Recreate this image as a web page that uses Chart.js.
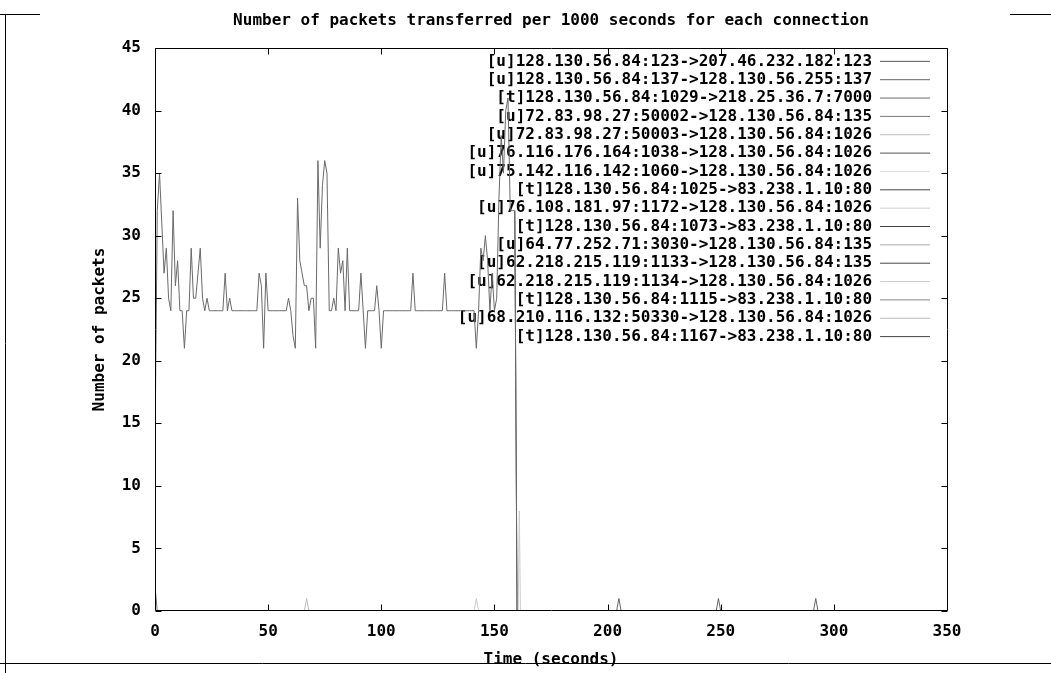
<!DOCTYPE html>
<html><head><meta charset="utf-8">
<script src="https://cdn.jsdelivr.net/npm/chart.js@4.4.1/dist/chart.umd.min.js"></script>
<style>html,body{margin:0;padding:0;background:#fff;overflow:hidden}#wrap{width:1051px;height:673px;position:relative}</style>
</head><body><div id="wrap"><canvas id="c" width="1051" height="673"></canvas></div>
<script>
const TITLE = 'Number of packets transferred per 1000 seconds for each connection';
const X_TITLE = 'Time (seconds)';
const Y_TITLE = 'Number of packets';
const X_MIN = 0, X_MAX = 350, X_STEP = 50;
const Y_MIN = 0, Y_MAX = 45, Y_STEP = 5;

const seriesNames = [
  '[u]128.130.56.84:123->207.46.232.182:123',
  '[u]128.130.56.84:137->128.130.56.255:137',
  '[t]128.130.56.84:1029->218.25.36.7:7000',
  '[u]72.83.98.27:50002->128.130.56.84:135',
  '[u]72.83.98.27:50003->128.130.56.84:1026',
  '[u]76.116.176.164:1038->128.130.56.84:1026',
  '[u]75.142.116.142:1060->128.130.56.84:1026',
  '[t]128.130.56.84:1025->83.238.1.10:80',
  '[u]76.108.181.97:1172->128.130.56.84:1026',
  '[t]128.130.56.84:1073->83.238.1.10:80',
  '[u]64.77.252.71:3030->128.130.56.84:135',
  '[u]62.218.215.119:1133->128.130.56.84:135',
  '[u]62.218.215.119:1134->128.130.56.84:1026',
  '[t]128.130.56.84:1115->83.238.1.10:80',
  '[u]68.210.116.132:50330->128.130.56.84:1026',
  '[t]128.130.56.84:1167->83.238.1.10:80'
];
const seriesColors = ['#555555','#666666','#6a6a6a','#777777','#bbbbbb','#555555','#dddddd','#444444',
                      '#cccccc','#444444','#aaaaaa','#444444','#cccccc','#888888','#bbbbbb','#444444'];

// main TCP connection (series 3)
const mainTimes = [0,1,2,3,4,5,6,7,8,9,10,11,12,13,14,15,16,17,18,19,20,21,22,23,24,25,26,27,28,29,
  30,31,32,33,34,35,36,37,38,39,40,41,42,43,44,45,46,47,48,49,50,51,52,53,54,55,56,57,58,59,
  60,61,62,63,64,65,66,67,68,69,70,71,72,73,74,75,76,77,78,79,80,81,82,83,84,85,86,87,88,89,
  90,91,92,93,94,95,96,97,98,99,100,101,102,103,104,105,106,107,108,109,110,111,112,113,114,115,116,117,118,119,
  120,121,122,123,124,125,126,127,128,129,130,131,132,133,134,135,136,137,138,139,140,141,142,143,144,145,146,147,148,149,
  150,151,152,153,154,155,156,157,158,159,160];
const mainValues = [13,32,35,31,27,29,25,24,32,26,28,24,24,21,24,24,29,25,25,27,29,25,24,25,24,24,24,24,24,24,
  24,27,24,25,24,24,24,24,24,24,24,24,24,24,24,24,27,26,21,27,24,24,24,24,24,24,24,24,24,25,
  24,22,21,33,28,27,26,26,24,25,25,21,36,29,34,36,35,24,24,25,24,29,27,28,24,29,24,24,24,24,
  24,27,24,21,24,24,24,24,26,24,21,24,24,24,24,24,24,24,24,24,24,24,24,24,27,24,24,24,24,24,
  24,24,24,24,24,24,24,24,27,24,24,24,24,24,24,24,24,24,24,24,24,24,21,24,29,28,30,28,24,27,
  24,25,33,38,35,40,41,32,32,32,0];

// periodic single packets (series 2); null separates the bursts
const bcastTimes = [204,205,206,227,248,249,250,270,291,292,293];
const bcastValues = [0,1,0,null,0,1,0,null,0,1,0];
// short bursts
const s4Times = [0,1];             const s4Values = [2,0];
const s5Times = [66,67,68];        const s5Values = [0,1,0];
const s13Times = [141,142,143];    const s13Values = [0,1,0];
const s9Times = [160.5,161,161.5]; const s9Values = [0,8,0];
const s16Times = [159,160];        const s16Values = [32,0];

const seriesTimes = [[],bcastTimes,mainTimes,s4Times,s5Times,[],[],[],s9Times,[],[],[],s13Times,[],[],s16Times];
const seriesValues = [[],bcastValues,mainValues,s4Values,s5Values,[],[],[],s9Values,[],[],[],s13Values,[],[],s16Values];

const FONT = {family: "'DejaVu Sans Mono', monospace", size: 16, weight: 'bold'};

const datasets = seriesNames.map((name, i) => ({
  label: name,
  data: seriesTimes[i].map((t, j) => ({x: t, y: seriesValues[i][j]})),
  borderColor: seriesColors[i],
  backgroundColor: seriesColors[i],
  borderWidth: 1,
  pointRadius: 0,
  tension: 0,
  spanGaps: false,
  fill: false
}));

const gnuplotFrame = {
  id: 'gnuplotFrame',
  afterLayout(chart) {
    const lg = chart.legend, ca = chart.chartArea;
    if (lg) {
      const w = lg.width;
      lg.right = ca.right - 14.6;
      lg.left = lg.right - w;
      lg.top = ca.top + 3;
      lg.bottom = ca.bottom;
    }
  },
  beforeDraw(chart) {
    const ctx = chart.ctx;
    ctx.save();
    ctx.fillStyle = '#fff';
    ctx.fillRect(0, 0, chart.width, chart.height);
    ctx.strokeStyle = '#000';
    ctx.lineWidth = 1;
    ctx.beginPath();
    ctx.moveTo(0, 14.5); ctx.lineTo(40, 14.5);
    ctx.moveTo(1010, 14.5); ctx.lineTo(1051, 14.5);
    ctx.moveTo(5.5, 14); ctx.lineTo(5.5, 673);
    ctx.moveTo(0, 663.5); ctx.lineTo(1051, 663.5);
    ctx.stroke();
    ctx.restore();
  },
  afterDraw(chart) {
    const ctx = chart.ctx, ca = chart.chartArea;
    const xs = chart.scales.x, ys = chart.scales.y;
    ctx.save();
    ctx.strokeStyle = '#000';
    ctx.lineWidth = 1;
    ctx.beginPath();
    const L = Math.round(ca.left) + 0.5, R = Math.round(ca.right) + 0.5;
    const T = Math.round(ca.top) + 0.5, B = Math.round(ca.bottom) - 0.5;
    ctx.rect(L, T, R - L, B - T);
    xs.ticks.forEach(tk => {
      const px = Math.round(xs.getPixelForValue(tk.value)) + 0.5;
      ctx.moveTo(px, B); ctx.lineTo(px, B - 6);
      ctx.moveTo(px, T); ctx.lineTo(px, T + 6);
    });
    ys.ticks.forEach(tk => {
      const py = Math.round(ys.getPixelForValue(tk.value)) + 0.5;
      ctx.moveTo(L, py); ctx.lineTo(L + 6, py);
      ctx.moveTo(R, py); ctx.lineTo(R - 6, py);
    });
    ctx.stroke();
    ctx.restore();
  }
};

new Chart(document.getElementById('c'), {
  type: 'line',
  data: {datasets},
  plugins: [gnuplotFrame],
  options: {
    responsive: false,
    animation: false,
    devicePixelRatio: 1,
    layout: {padding: {left: 0, right: 104, top: 0, bottom: 0}},
    plugins: {
      title: {
        display: true, text: TITLE, color: '#000', font: FONT, fullSize: false,
        padding: {top: 11.4, bottom: 17.4}
      },
      legend: {
        position: 'chartArea', align: 'start', rtl: true, textDirection: 'ltr',
        labels: {
          color: '#000', font: FONT, usePointStyle: true, pointStyle: 'line',
          pointStyleWidth: 50, boxHeight: 16, padding: 2.35, textAlign: 'left'
        }
      },
      tooltip: {enabled: false}
    },
    scales: {
      x: {
        type: 'linear', min: X_MIN, max: X_MAX,
        ticks: {stepSize: X_STEP, color: '#000', font: FONT, padding: 11.4, maxRotation: 0},
        grid: {display: false, drawTicks: false},
        border: {display: false},
        title: {display: true, text: X_TITLE, color: '#000', font: FONT, padding: {top: 0, bottom: 3.4}},
        afterFit(s) { s.height = 62; }
      },
      y: {
        type: 'linear', min: Y_MIN, max: Y_MAX,
        ticks: {stepSize: Y_STEP, color: '#000', font: FONT, padding: 14},
        grid: {display: false, drawTicks: false},
        border: {display: false},
        title: {display: true, text: Y_TITLE, color: '#000', font: FONT, padding: {top: 90.4, bottom: 0}},
        afterFit(s) { s.width = 155; }
      }
    }
  }
});
</script>
</body></html>
